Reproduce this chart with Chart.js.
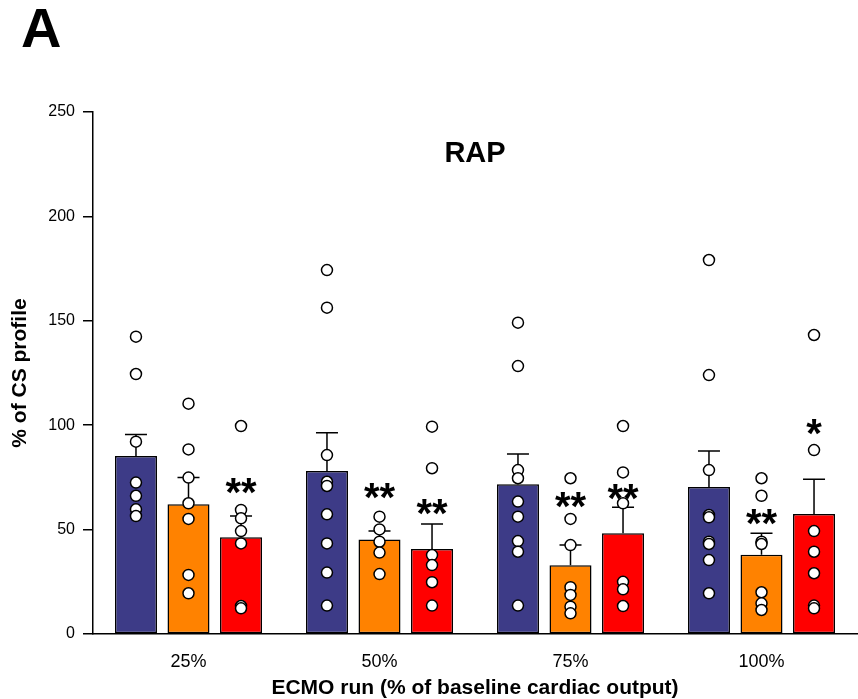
<!DOCTYPE html>
<html>
<head>
<meta charset="utf-8">
<script src="https://cdn.jsdelivr.net/npm/chart.js@4.4.1/dist/chart.umd.min.js"></script>
<style>
  body { margin: 0; background: #fff; }
  canvas { display: block; }
</style>
</head>
<body>
<canvas id="rapChart" width="858" height="699"></canvas>
<script>
const categories = ['25%', '50%', '75%', '100%'];

// group means (% of CS profile)
const navyMean = [85.2, 78.1, 71.7, 70.4];
const orangeMean = [62.1, 45.3, 32.9, 38.0];
const redMean = [46.3, 40.7, 48.2, 57.5];

// SEM (upper error bar only)
const navySem = [10.4, 18.3, 14.5, 17.2];
const orangeSem = [12.8, 4.0, 9.7, 10.2];
const redSem = [10.2, 12.0, 12.5, 16.6];

// individual animals
const navyPoints = [
  [142.4, 124.5, 92.1, 72.5, 66.2, 59.7, 56.5],
  [174.3, 156.3, 85.7, 72.9, 70.9, 57.3, 43.4, 29.4, 13.6],
  [149.1, 128.3, 78.5, 74.6, 63.4, 56.2, 44.5, 39.4, 13.6],
  [179.1, 124.0, 78.5, 57.0, 55.9, 44.2, 43.1, 35.4, 19.5]
];
const orangePoints = [
  [110.3, 88.4, 74.9, 62.6, 55.1, 28.3, 19.5],
  [56.2, 50.1, 44.2, 39.0, 28.7],
  [74.6, 55.1, 42.6, 22.4, 18.7, 13.1, 9.9],
  [74.6, 66.2, 44.2, 43.1, 20.0, 14.7, 11.5]
];
const redPoints = [
  [99.6, 59.4, 55.4, 49.3, 43.4, 13.4, 12.3],
  [99.3, 79.4, 37.8, 33.0, 24.8, 13.6],
  [99.6, 77.4, 62.6, 25.0, 21.4, 13.4],
  [143.2, 88.1, 49.3, 39.4, 29.1, 13.6, 12.3]
];

// significance marks and the value they sit at
const navyStars = ['', '', '', ''];
const orangeStars = ['', '**', '**', '**'];
const redStars = ['**', '**', '**', '*'];
const navyStarY = [0, 0, 0, 0];
const orangeStarY = [0, 68.5, 64.2, 56.2];
const redStarY = [71, 61, 68.2, 99.3];

const yTicks = [0, 50, 100, 150, 200, 250];

const colors = ['#3d3b87', '#ff8200', '#ff0000'];
const means = [navyMean, orangeMean, redMean];
const sems = [navySem, orangeSem, redSem];
const points = [navyPoints, orangePoints, redPoints];
const stars = [navyStars, orangeStars, redStars];
const starY = [navyStarY, orangeStarY, redStarY];

const FONT = "'Liberation Sans', Arial, Helvetica, sans-serif";
Chart.defaults.font.family = FONT;
Chart.defaults.color = '#000';

const barSets = means.map((m, s) => ({
  data: m,
  backgroundColor: colors[s],
  borderColor: '#000',
  borderWidth: 1.5,
  borderSkipped: false,
  barPercentage: 0.8,
  categoryPercentage: 0.825
}));

// error bars go on right after each bar set, so the dots sit on top of them
const errorBars = {
  id: 'errorBars',
  afterDatasetDraw(chart, args) {
    const i = args.index;
    const ctx = chart.ctx;
    const y = chart.scales.y;
    ctx.save();
    ctx.strokeStyle = '#000';
    ctx.lineWidth = 1.5;
    chart.getDatasetMeta(i).data.forEach((bar, j) => {
      const top = y.getPixelForValue(means[i][j] + sems[i][j]);
      ctx.beginPath();
      ctx.moveTo(bar.x, bar.y);
      ctx.lineTo(bar.x, top);
      ctx.moveTo(bar.x - 11, top);
      ctx.lineTo(bar.x + 11, top);
      ctx.stroke();
    });
    ctx.restore();
  }
};

const dots = {
  id: 'dots',
  afterDatasetsDraw(chart) {
    const ctx = chart.ctx;
    const y = chart.scales.y;
    ctx.save();
    ctx.fillStyle = '#fff';
    ctx.strokeStyle = '#000';
    ctx.lineWidth = 1.5;
    points.forEach((grp, s) => {
      const meta = chart.getDatasetMeta(s);
      grp.forEach((vals, g) => {
        vals.forEach(v => {
          ctx.beginPath();
          ctx.arc(meta.data[g].x, y.getPixelForValue(v), 5.5, 0, Math.PI * 2);
          ctx.fill();
          ctx.stroke();
        });
      });
    });
    ctx.restore();
  }
};

const labels = {
  id: 'labels',
  afterDraw(chart) {
    const ctx = chart.ctx;
    const y = chart.scales.y;
    const area = chart.chartArea;
    ctx.save();
    ctx.fillStyle = '#000';
    ctx.textAlign = 'center';
    ctx.textBaseline = 'alphabetic';
    ctx.font = 'bold 40px ' + FONT;
    stars.forEach((row, s) => {
      const meta = chart.getDatasetMeta(s);
      row.forEach((txt, g) => {
        if (!txt) return;
        ctx.fillText(txt, meta.data[g].x, y.getPixelForValue(starY[s][g]) + 20);
      });
    });
    ctx.font = 'bold 29px ' + FONT;
    ctx.textBaseline = 'middle';
    ctx.fillText('RAP', (area.left + area.right) / 2, y.getPixelForValue(230));
    ctx.textAlign = 'left';
    ctx.textBaseline = 'top';
    ctx.font = 'bold 56px ' + FONT;
    ctx.fillText('A', 21, 4);
    ctx.restore();
  }
};

new Chart('rapChart', {
  type: 'bar',
  data: {
    labels: categories,
    datasets: barSets
  },
  options: {
    responsive: false,
    animation: false,
    layout: { padding: { top: 112, right: 1, bottom: 0, left: 0 } },
    plugins: {
      legend: { display: false },
      tooltip: { enabled: false }
    },
    scales: {
      x: {
        offset: true,
        grid: { display: false, drawTicks: false },
        border: { display: true, color: '#000', width: 1.5 },
        ticks: { font: { size: 18 }, padding: 17, color: '#000' },
        title: {
          display: true,
          text: 'ECMO run (% of baseline cardiac output)',
          font: { size: 21, weight: 'bold', lineHeight: 1 },
          padding: { top: 0, bottom: 0 },
          color: '#000'
        },
        afterFit(scale) { scale.height = 65; }
      },
      y: {
        min: 0,
        max: 250,
        afterBuildTicks(scale) { scale.ticks = yTicks.map(v => ({ value: v })); },
        grid: { display: true, drawOnChartArea: false, drawTicks: true, tickLength: 10, color: '#000', lineWidth: 1.5 },
        border: { display: true, color: '#000', width: 1.5 },
        ticks: { font: { size: 16 }, padding: 8, color: '#000' },
        title: {
          display: true,
          text: '% of CS profile',
          font: { size: 21, weight: 'bold', lineHeight: 1.2 },
          padding: { top: 8, bottom: 0 },
          color: '#000'
        },
        afterFit(scale) { scale.width = 93; }
      }
    }
  },
  plugins: [errorBars, dots, labels]
});
</script>
</body>
</html>
